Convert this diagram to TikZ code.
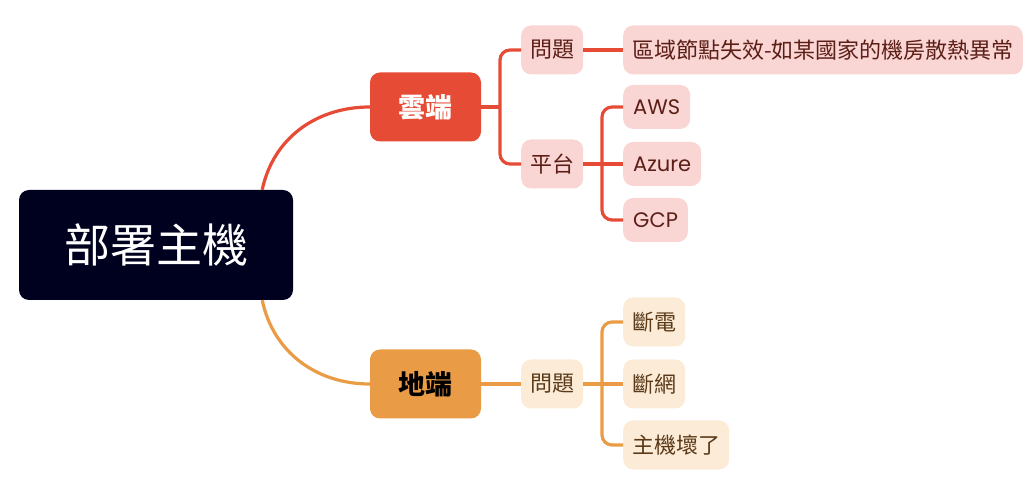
\documentclass[tikz,border=0pt]{standalone}
\usepackage{fontspec}
\setmainfont{Noto Sans CJK TC}
\newfontfamily\latinfont{Poppins}
\definecolor{rootblue}{HTML}{00011F}
\definecolor{cloudred}{HTML}{E64B36}
\definecolor{cloudpink}{HTML}{F9D6D3}
\definecolor{cloudtext}{HTML}{5C1E16}
\definecolor{groundorange}{HTML}{E99C45}
\definecolor{groundcream}{HTML}{FCEBD7}
\definecolor{groundtext}{HTML}{5A3A18}
\tikzset{
  mainbox/.style={rounded corners=10pt, minimum width=111pt, minimum height=69pt, inner sep=0pt, font=\fontsize{27}{30}\selectfont\bfseries},
  cloudleaf/.style={fill=cloudpink, text=cloudtext, rounded corners=10pt, minimum height=49pt, inner xsep=9pt, inner ysep=0pt, anchor=west, font=\fontsize{22}{24}\selectfont},
  groundleaf/.style={cloudleaf, fill=groundcream, text=groundtext},
  latinleaf/.style={cloudleaf, minimum height=44pt, inner xsep=10pt, font=\latinfont\fontsize{21}{24}\selectfont},
  cloudline/.style={draw=cloudred, line width=3.2pt, rounded corners=10pt},
  groundline/.style={draw=groundorange, line width=3.2pt, rounded corners=10pt}
}
\begin{document}
\begin{tikzpicture}[x=1pt, y=1pt]
  \useasboundingbox (0,0) rectangle (1024,484);
  % root and main branches
  \node[fill=rootblue, text=white, rounded corners=10pt, minimum width=274pt, minimum height=110pt, font=\fontsize{46}{50}\selectfont] (root) at (156,239) {部署主機};
  \node[mainbox, fill=cloudred, text=white] (cloud) at (425.5,377) {雲端};
  \node[mainbox, fill=groundorange, text=black] (ground) at (425.5,100) {地端};
  \draw[cloudline] ([xshift=-31pt]root.north east) to[out=78, in=180] (cloud.west);
  \draw[groundline] ([xshift=-31pt]root.south east) to[out=-78, in=180] (ground.west);
  % cloud side
  \node[cloudleaf] (cissue) at (521,434) {問題};
  \node[cloudleaf] (platform) at (521,320) {平台};
  \node[cloudleaf] (region) at (623,434) {區域節點失效-如某國家的機房散熱異常};
  \node[latinleaf] (aws) at (623,377) {AWS};
  \node[latinleaf] (azure) at (623,320) {Azure};
  \node[latinleaf] (gcp) at (623,264) {GCP};
  \draw[cloudline] (cloud.east) -- ++(19,0);
  \draw[cloudline] (cissue.west) -- ++(-21,0) |- (platform.west);
  \draw[cloudline] (cissue.east) -- (region.west);
  \draw[cloudline] (aws.west) -- ++(-21,0) |- (gcp.west);
  \draw[cloudline] (platform.east) -- (azure.west);
  % ground side
  \node[groundleaf] (gissue) at (521,100) {問題};
  \node[groundleaf] (power) at (623,162) {斷電};
  \node[groundleaf] (network) at (623,100) {斷網};
  \node[groundleaf] (broken) at (623,39) {主機壞了};
  \draw[groundline] (ground.east) -- (gissue.west);
  \draw[groundline] (power.west) -- ++(-21,0) |- (broken.west);
  \draw[groundline] (gissue.east) -- (network.west);
\end{tikzpicture}
\end{document}
